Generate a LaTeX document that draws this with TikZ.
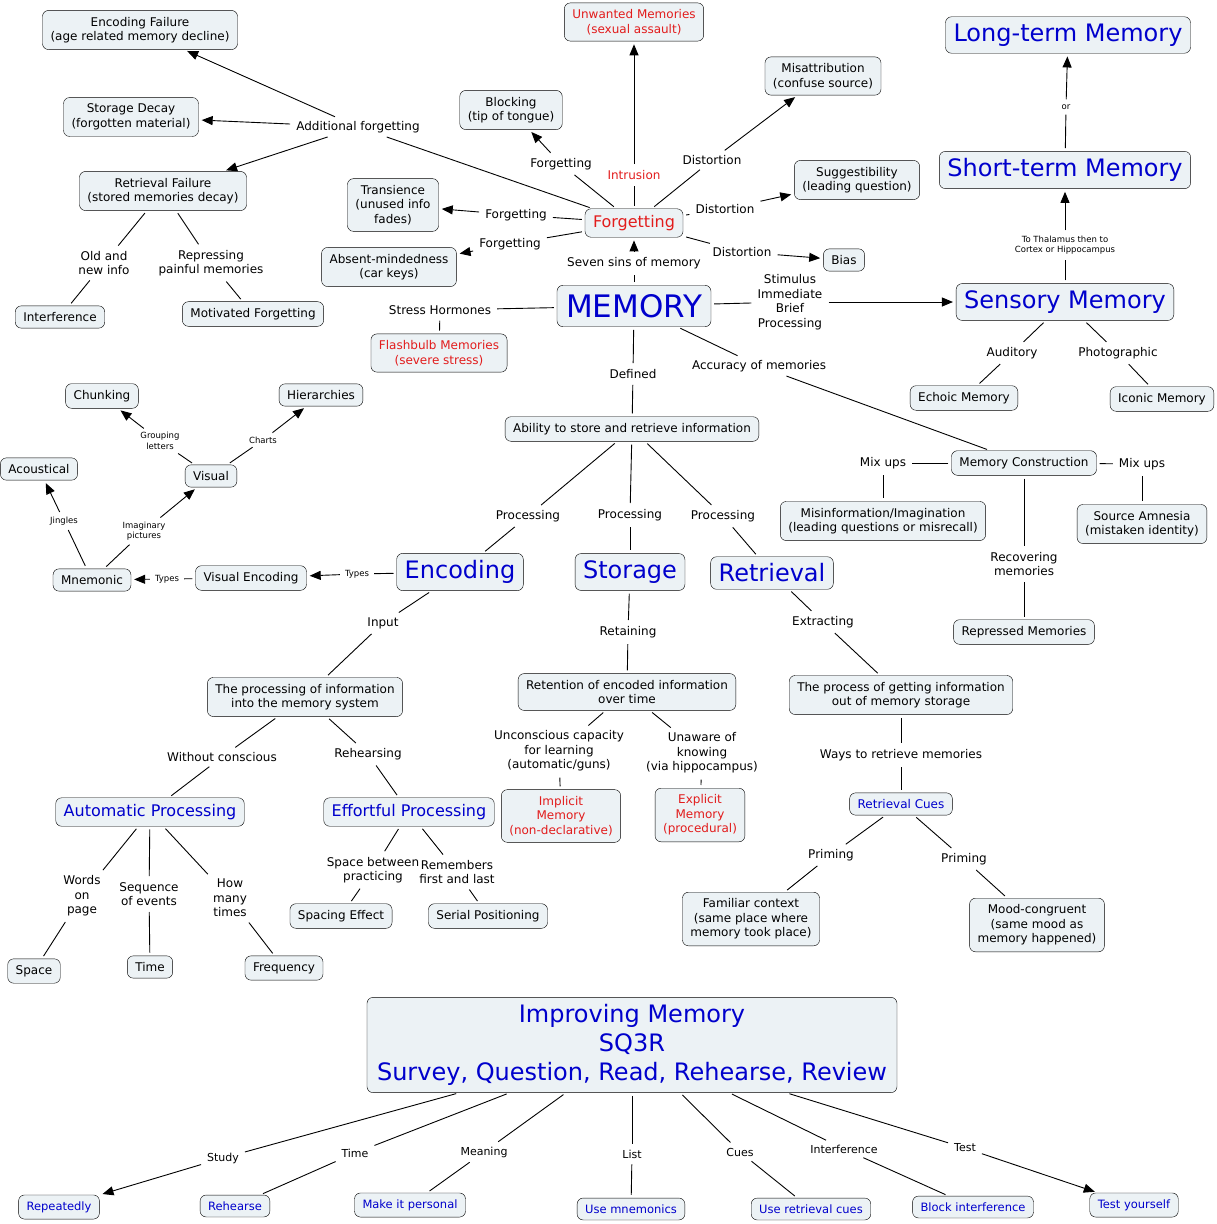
\documentclass[tikz,border=0pt]{standalone}
\usepackage{fontspec}
\setmainfont{DejaVu Sans}
\usetikzlibrary{arrows.meta}
\definecolor{boxfill}{RGB}{236,242,245}
\definecolor{cmblue}{RGB}{0,0,204}
\definecolor{cmred}{RGB}{226,28,28}
\newcommand{\fsz}[2]{\fontsize{#1}{#2}\selectfont}

\begin{document}
\begin{tikzpicture}[
x=1pt, y=-1pt,
mybox/.style={
  draw, rounded corners=6pt, fill=boxfill,
  inner xsep=8pt, inner ysep=6.5pt,
  align=center, font=\fsz{12}{14.5}},
bigbox/.style={mybox, text=cmblue, font=\fsz{24}{29}, inner ysep=7pt},
bluebox/.style={mybox, text=cmblue},
redbox/.style={mybox, text=cmred},
mylink/.style={align=center, inner sep=3pt, font=\fsz{12}{14.5}},
tinylink/.style={align=center, inner sep=2pt, font=\fsz{8.5}{10.5}},
myline/.style={line width=0.9pt, shorten <=3pt, shorten >=3pt},
myarrow/.style={myline, -{Triangle[length=11pt,width=9pt]}}
]
\useasboundingbox (0,0) rectangle (1217,1224);

% centre
\node[mybox, text=cmblue, font=\fsz{31}{35}, inner sep=9pt] (memory) at (634,306) {MEMORY};
\node[redbox, font=\fsz{16}{19}] (forget) at (634,223) {Forgetting};

% seven sins
\node[redbox] (unwanted) at (634,22) {Unwanted Memories\\(sexual assault)};
\node[mybox] (blocking) at (511,110) {Blocking\\(tip of tongue)};
\node[mybox] (misattr) at (823,76) {Misattribution\\(confuse source)};
\node[mybox] (suggest) at (857,180) {Suggestibility\\(leading question)};
\node[mybox] (bias) at (844,260) {Bias};
\node[mybox] (transience) at (393,205) {Transience\\(unused info\\fades)};
\node[mybox] (absent) at (389,267) {Absent-mindedness\\(car keys)};
\node[mylink] (lsins) at (634,263) {Seven sins of memory};
\node[mylink, text=cmred] (lintru) at (634,175) {Intrusion};
\node[mylink] (lblock) at (561,164) {Forgetting};
\node[mylink] (ltrans) at (516,215) {Forgetting};
\node[mylink] (labsent) at (510,244) {Forgetting};
\node[mylink] (lmisattr) at (712,160) {Distortion};
\node[mylink] (lsuggest) at (725,209) {Distortion};
\node[mylink] (lbias) at (742,252) {Distortion};

% additional forgetting
\node[mybox] (encfail) at (140,30) {Encoding Failure\\(age related memory decline)};
\node[mybox] (storedecay) at (131,117) {Storage Decay\\(forgotten material)};
\node[mybox] (retfail) at (163,191) {Retrieval Failure\\(stored memories decay)};
\node[mybox] (interf) at (60,317) {Interference};
\node[mybox] (motiv) at (253,314) {Motivated Forgetting};
\node[mylink] (laddit) at (358,127) {Additional forgetting};
\node[mylink] (loldnew) at (104,263) {Old and\\new info};
\node[mylink] (lrepress) at (211,263) {Repressing\\painful memories};

% stress
\node[redbox] (flashbulb) at (439,353) {Flashbulb Memories\\(severe stress)};
\node[mylink] (lstress) at (440,310) {Stress Hormones};

% memory stages
\node[bigbox] (sensory) at (1065,302) {Sensory Memory};
\node[bigbox] (shortterm) at (1065,170) {Short-term Memory};
\node[bigbox] (longterm) at (1068,35) {Long-term Memory};
\node[mybox] (echoic) at (964,398) {Echoic Memory};
\node[mybox] (iconic) at (1162,399) {Iconic Memory};
\node[mylink] (lstimul) at (790,302) {Stimulus\\Immediate\\Brief\\Processing};
\node[tinylink] (lthal) at (1065,245) {To Thalamus then to\\Cortex or Hippocampus};
\node[tinylink] (lor) at (1066,107) {or};
\node[mylink] (laudit) at (1012,353) {Auditory};
\node[mylink] (lphoto) at (1118,353) {Photographic};

% construction
\node[mybox] (memconstr) at (1024,463) {Memory Construction};
\node[mybox] (misinfo) at (883,521) {Misinformation/Imagination\\(leading questions or misrecall)};
\node[mybox] (sourceamn) at (1142,524) {Source Amnesia\\(mistaken identity)};
\node[mybox] (repressed) at (1024,632) {Repressed Memories};
\node[mylink] (laccur) at (759,366) {Accuracy of memories};
\node[mylink] (lmixl) at (883,463) {Mix ups};
\node[mylink] (lmixr) at (1142,464) {Mix ups};
\node[mylink] (lrecov) at (1024,564) {Recovering\\memories};

% definition
\node[mybox] (ability) at (632,429) {Ability to store and retrieve information};
\node[mylink] (ldefined) at (633,374) {Defined};
\node[bigbox] (encoding) at (460,572) {Encoding};
\node[bigbox] (storage) at (630,572) {Storage};
\node[bigbox] (retrieval) at (772,573) {Retrieval};
\node[mylink] (lprocenc) at (528,516) {Processing};
\node[mylink] (lprocsto) at (630,515) {Processing};
\node[mylink] (lprocret) at (723,516) {Processing};

% mnemonic cluster
\node[mybox] (visualenc) at (251,578) {Visual Encoding};
\node[mybox] (mnemonic) at (92,580) {Mnemonic};
\node[mybox] (acoustical) at (39,469) {Acoustical};
\node[mybox] (visual) at (211,476) {Visual};
\node[mybox] (chunking) at (102,396) {Chunking};
\node[mybox] (hierarch) at (321,395) {Hierarchies};
\node[tinylink] (ltypesa) at (357,574) {Types};
\node[tinylink] (ltypesb) at (167,579) {Types};
\node[tinylink] (ljingles) at (64,521) {Jingles};
\node[tinylink] (limagin) at (144,531) {Imaginary\\pictures};
\node[tinylink] (lgroup) at (160,441) {Grouping\\letters};
\node[tinylink] (lcharts) at (263,440) {Charts};

% encoding branch
\node[mybox] (procinfo) at (305,697) {The processing of information\\into the memory system};
\node[mybox, text=cmblue, font=\fsz{16}{19}] (autoproc) at (150,812) {Automatic Processing};
\node[mybox, text=cmblue, font=\fsz{16}{19}] (effproc) at (409,812) {Effortful Processing};
\node[mybox] (space) at (34,971) {Space};
\node[mybox] (time) at (150,967) {Time};
\node[mybox] (frequency) at (284,968) {Frequency};
\node[mybox] (spacingeff) at (341,916) {Spacing Effect};
\node[mybox] (serialpos) at (488,916) {Serial Positioning};
\node[mylink] (linput) at (383,623) {Input};
\node[mylink] (lwithout) at (222,757) {Without conscious};
\node[mylink] (lrehears) at (368,754) {Rehearsing};
\node[mylink] (lwords) at (82,896) {Words\\on\\page};
\node[mylink] (lsequence) at (149,894) {Sequence\\of events};
\node[mylink] (lhowmany) at (230,898) {How\\many\\times};
\node[mylink] (lspacebtw) at (373,870) {Space between\\practicing};
\node[mylink] (lremember) at (457,872) {Remembers\\first and last};

% storage branch
\node[mybox] (retention) at (627,692) {Retention of encoded information\\over time};
\node[redbox] (implicit) at (561,816) {Implicit\\Memory\\(non-declarative)};
\node[redbox] (explicit) at (700,815) {Explicit\\Memory\\(procedural)};
\node[mylink] (lretain) at (628,632) {Retaining};
\node[mylink] (luncons) at (559,751) {Unconscious capacity\\for learning\\(automatic/guns)};
\node[mylink] (lunaware) at (702,753) {Unaware of\\knowing\\(via hippocampus)};

% retrieval branch
\node[mybox] (process) at (901,695) {The process of getting information\\out of memory storage};
\node[bluebox] (retcues) at (901,804) {Retrieval Cues};
\node[mybox] (familiar) at (751,919) {Familiar context\\(same place where\\memory took place)};
\node[mybox] (moodcong) at (1037,925) {Mood-congruent\\(same mood as\\memory happened)};
\node[mylink] (lextract) at (823,622) {Extracting};
\node[mylink] (lways) at (901,755) {Ways to retrieve memories};
\node[mylink] (lprima) at (831,855) {Priming};
\node[mylink] (lprimb) at (964,859) {Priming};

% improving memory
\node[bigbox, inner xsep=10pt] (improve) at (632,1045) {Improving Memory\\SQ3R\\Survey, Question, Read, Rehearse, Review};
\node[bluebox, font=\fsz{11.5}{14}] (repeatedly) at (59,1207) {Repeatedly};
\node[bluebox, font=\fsz{11.5}{14}] (rehearse) at (235,1206) {Rehearse};
\node[bluebox, font=\fsz{11.5}{14}] (personal) at (410,1205) {Make it personal};
\node[bluebox, font=\fsz{11.5}{14}] (usemnem) at (631,1209) {Use mnemonics};
\node[bluebox, font=\fsz{11.5}{14}] (usecues) at (811,1209) {Use retrieval cues};
\node[bluebox, font=\fsz{11.5}{14}] (blockint) at (973,1207) {Block interference};
\node[bluebox, font=\fsz{11.5}{14}] (testyour) at (1134,1205) {Test yourself};
\node[mylink, font=\fsz{11}{13}] (lstudy) at (223,1158) {Study};
\node[mylink, font=\fsz{11}{13}] (ltime) at (355,1153) {Time};
\node[mylink, font=\fsz{11}{13}] (lmeaning) at (484,1152) {Meaning};
\node[mylink, font=\fsz{11}{13}] (llist) at (632,1154) {List};
\node[mylink, font=\fsz{11}{13}] (lcues) at (740,1152) {Cues};
\node[mylink, font=\fsz{11}{13}] (linterf) at (844,1149) {Interference};
\node[mylink, font=\fsz{11}{13}] (ltest) at (965,1148) {Test};

% connectors
\draw[myline] (memory) -- (lsins);
\draw[myarrow] (lsins) -- (forget);
\foreach \Lab/\Tgt in {lintru/unwanted, lblock/blocking, ltrans/transience,
  labsent/absent, lmisattr/misattr, lsuggest/suggest, lbias/bias}
{
  \draw[myline] (forget) -- (\Lab);
  \draw[myarrow] (\Lab) -- (\Tgt);
}
\draw[myline] (forget) -- (laddit);
\foreach \Tgt in {encfail, storedecay, retfail}
  \draw[myarrow] (laddit) -- (\Tgt);
\draw[myline] (retfail) -- (loldnew);
\draw[myline] (loldnew) -- (interf);
\draw[myline] (retfail) -- (lrepress);
\draw[myline] (lrepress) -- (motiv);

\draw[myline] (memory) -- (lstress);
\draw[myline] (lstress) -- (flashbulb);
\draw[myline] (memory) -- (lstimul);
\draw[myarrow] (lstimul) -- (sensory);
\draw[myline] (sensory) -- (lthal);
\draw[myarrow] (lthal) -- (shortterm);
\draw[myline] (shortterm) -- (lor);
\draw[myarrow] (lor) -- (longterm);
\draw[myline] (sensory) -- (laudit);
\draw[myline] (laudit) -- (echoic);
\draw[myline] (sensory) -- (lphoto);
\draw[myline] (lphoto) -- (iconic);

\draw[myline] (memory) -- (laccur);
\draw[myline] (laccur) -- (memconstr);
\draw[myline] (memconstr) -- (lmixl);
\draw[myline] (lmixl) -- (misinfo);
\draw[myline] (memconstr) -- (lmixr);
\draw[myline] (lmixr) -- (sourceamn);
\draw[myline] (memconstr) -- (lrecov);
\draw[myline] (lrecov) -- (repressed);

\draw[myline] (memory) -- (ldefined);
\draw[myline] (ldefined) -- (ability);
\foreach \Lab/\Tgt in {lprocenc/encoding, lprocsto/storage, lprocret/retrieval}
{
  \draw[myline] (ability) -- (\Lab);
  \draw[myline] (\Lab) -- (\Tgt);
}

\draw[myline] (encoding) -- (ltypesa);
\draw[myarrow] (ltypesa) -- (visualenc);
\draw[myline] (visualenc) -- (ltypesb);
\draw[myarrow] (ltypesb) -- (mnemonic);
\draw[myline] (mnemonic) -- (ljingles);
\draw[myarrow] (ljingles) -- (acoustical);
\draw[myline] (mnemonic) -- (limagin);
\draw[myarrow] (limagin) -- (visual);
\draw[myline] (visual) -- (lgroup);
\draw[myarrow] (lgroup) -- (chunking);
\draw[myline] (visual) -- (lcharts);
\draw[myarrow] (lcharts) -- (hierarch);

\draw[myline] (encoding) -- (linput);
\draw[myline] (linput) -- (procinfo);
\draw[myline] (procinfo) -- (lwithout);
\draw[myline] (lwithout) -- (autoproc);
\draw[myline] (procinfo) -- (lrehears);
\draw[myline] (lrehears) -- (effproc);
\foreach \Lab/\Tgt in {lwords/space, lsequence/time, lhowmany/frequency}
{
  \draw[myline] (autoproc) -- (\Lab);
  \draw[myline] (\Lab) -- (\Tgt);
}
\draw[myline] (effproc) -- (lspacebtw);
\draw[myline] (lspacebtw) -- (spacingeff);
\draw[myline] (effproc) -- (lremember);
\draw[myline] (lremember) -- (serialpos);

\draw[myline] (storage) -- (lretain);
\draw[myline] (lretain) -- (retention);
\draw[myline] (retention) -- (luncons);
\draw[myline] (luncons) -- (implicit);
\draw[myline] (retention) -- (lunaware);
\draw[myline] (lunaware) -- (explicit);

\draw[myline] (retrieval) -- (lextract);
\draw[myline] (lextract) -- (process);
\draw[myline] (process) -- (lways);
\draw[myline] (lways) -- (retcues);
\draw[myline] (retcues) -- (lprima);
\draw[myline] (lprima) -- (familiar);
\draw[myline] (retcues) -- (lprimb);
\draw[myline] (lprimb) -- (moodcong);

\draw[myline] (improve) -- (lstudy);
\draw[myarrow] (lstudy) -- (repeatedly);
\foreach \Lab/\Tgt in {ltime/rehearse, lmeaning/personal, llist/usemnem,
  lcues/usecues, linterf/blockint}
{
  \draw[myline] (improve) -- (\Lab);
  \draw[myline] (\Lab) -- (\Tgt);
}
\draw[myline] (improve) -- (ltest);
\draw[myarrow] (ltest) -- (testyour);
\end{tikzpicture}
\end{document}
